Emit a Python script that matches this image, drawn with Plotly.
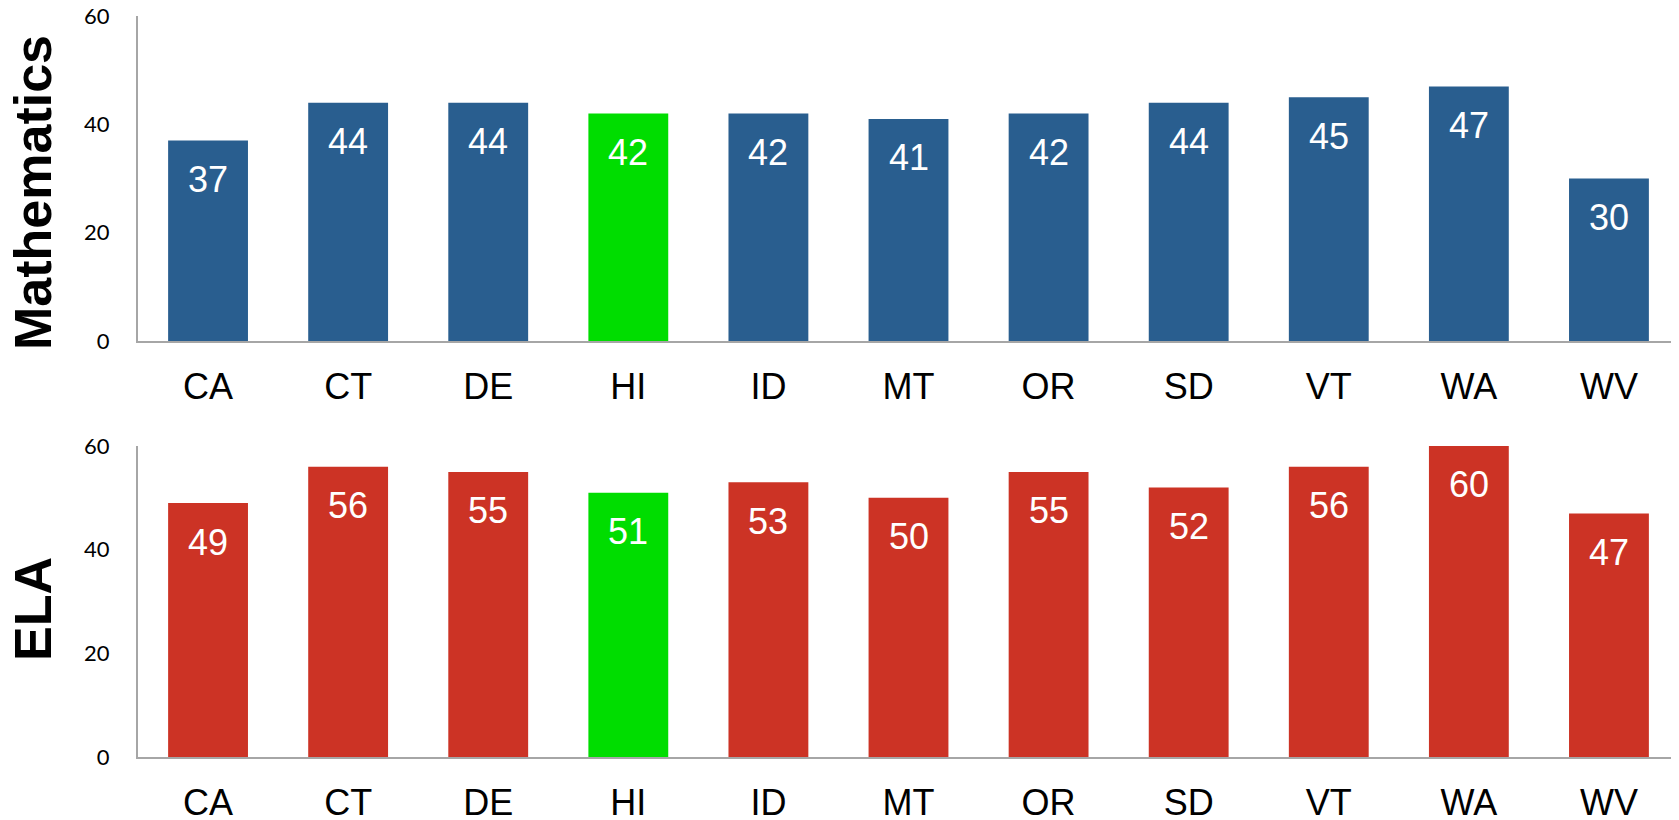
import plotly.graph_objects as go
from plotly.subplots import make_subplots

states = ["CA", "CT", "DE", "HI", "ID", "MT", "OR", "SD", "VT", "WA", "WV"]
math_vals = [37, 44, 44, 42, 42, 41, 42, 44, 45, 47, 30]
ela_vals = [49, 56, 55, 51, 53, 50, 55, 52, 56, 60, 47]
y_ticks = [0, 20, 40, 60]
highlight = "HI"

BLUE = "#295E8F"
RED = "#CC3325"
GREEN = "#00DD00"
AXIS = "#A6A6A6"

# page body has an 8px margin; figure sized to fill the visible 1679x820 window
OX, OY = 8, 8
W, H = 1679 - OX, 820 - OY


def px(x):
    return (x - OX) / W


def py(y):
    return 1 - (y - OY) / H


math_colors = [GREEN if s == highlight else BLUE for s in states]
ela_colors = [GREEN if s == highlight else RED for s in states]

fig = make_subplots(rows=2, cols=1)
fig.add_trace(go.Bar(x=states, y=math_vals, marker=dict(color=math_colors, line=dict(width=0)),
                     hoverinfo="x+y"), row=1, col=1)
fig.add_trace(go.Bar(x=states, y=ela_vals, marker=dict(color=ela_colors, line=dict(width=0)),
                     hoverinfo="x+y"), row=2, col=1)

xdom = [px(138), 1.0]
top_dom = [py(341), py(16)]
bot_dom = [py(757), py(446)]

xaxis_common = dict(
    showline=True, linecolor=AXIS, linewidth=2, showgrid=False, zeroline=False,
    ticks="", ticklabelstandoff=13, automargin=False, ticklabeloverflow="allow",
    tickfont=dict(family="Liberation Sans, Arial", size=36, color="black"),
    domain=xdom, fixedrange=True,
)
yaxis_common = dict(
    showline=True, linecolor=AXIS, linewidth=2, showgrid=False, zeroline=False,
    range=[0, 60], tickvals=y_ticks, ticks="", ticklabelstandoff=22, automargin=False,
    ticklabeloverflow="allow",
    tickfont=dict(family="Lato, Liberation Sans, Arial", size=22, color="black"),
    fixedrange=True,
)
fig.update_layout(
    xaxis=dict(**xaxis_common), xaxis2=dict(**xaxis_common),
    yaxis=dict(**yaxis_common, domain=top_dom),
    yaxis2=dict(**yaxis_common, domain=bot_dom),
    bargap=0.43, showlegend=False,
    width=W, height=H, margin=dict(l=0, r=0, t=0, b=0, pad=0, autoexpand=False),
    paper_bgcolor="white", plot_bgcolor="white",
)

annotations = []
for s, v in zip(states, math_vals):
    annotations.append(dict(x=s, y=v, xref="x", yref="y", text=str(v), showarrow=False,
                            yanchor="middle", yshift=-39,
                            font=dict(family="Liberation Sans, Arial", size=36, color="white")))
for s, v in zip(states, ela_vals):
    annotations.append(dict(x=s, y=v, xref="x2", yref="y2", text=str(v), showarrow=False,
                            yanchor="middle", yshift=-39,
                            font=dict(family="Liberation Sans, Arial", size=36, color="white")))
annotations.append(dict(x=px(33), y=py(193), xref="paper", yref="paper", text="<b>Mathematics</b>",
                        textangle=-90, showarrow=False, xanchor="center", yanchor="middle",
                        font=dict(family="Liberation Sans, Arial", size=52, color="black")))
annotations.append(dict(x=px(33), y=py(609), xref="paper", yref="paper", text="<b>ELA</b>",
                        textangle=-90, showarrow=False, xanchor="center", yanchor="middle",
                        font=dict(family="Liberation Sans, Arial", size=52, color="black")))
fig.update_layout(annotations=annotations)

fig.write_html("out.html", config={"displayModeBar": False})
